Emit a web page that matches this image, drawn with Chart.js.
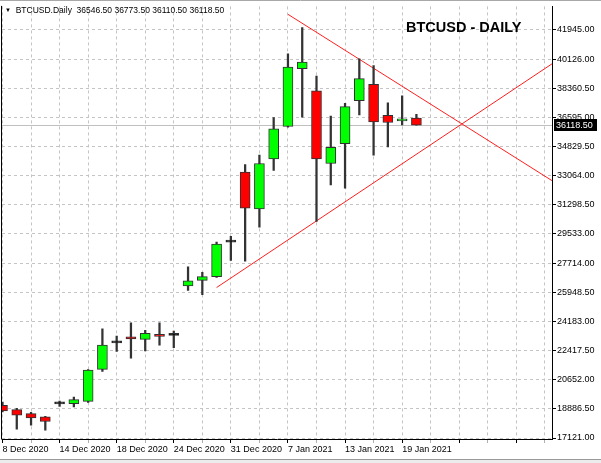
<!DOCTYPE html>
<html>
<head>
<meta charset="utf-8">
<script src="https://cdn.jsdelivr.net/npm/chart.js@4.4.0/dist/chart.umd.min.js"></script>
<style>
  html, body { margin: 0; padding: 0; background: #fff; }
  #wrap { position: relative; width: 601px; height: 463px; overflow: hidden; }
  #wrap canvas { position: absolute; left: 0; top: 0; }
  .hdr { position: absolute; left: 5px; top: 5px; font: 8.5px "Liberation Sans", Arial, sans-serif; line-height: 10px; color: #000; white-space: pre; }
  .hdr .tri { font-size: 6px; vertical-align: 1px; }
  .ttl { position: absolute; left: 406px; top: 20px; font: bold 14.5px "Liberation Sans", Arial, sans-serif; line-height: 15px; color: #000; }
  .foot { position: absolute; left: 0; top: 459px; width: 601px; height: 4px; border-top: 1px solid #9a9a9a; background: #ececec; }
</style>
</head>
<body>
<div id="wrap">
  <canvas id="chart" width="601" height="463"></canvas>
  <div class="hdr"><span class="tri">▼</span>  BTCUSD.Daily  36546.50 36773.50 36110.50 36118.50</div>
  <div class="ttl">BTCUSD - DAILY</div>
  <div class="foot"></div>
</div>
<script>
// daily bars (weekends/holidays missing as on the broker feed)
const dates = ['8 Dec 2020','9 Dec 2020','10 Dec 2020','11 Dec 2020','14 Dec 2020','15 Dec 2020','16 Dec 2020','17 Dec 2020',
  '18 Dec 2020','21 Dec 2020','22 Dec 2020','23 Dec 2020','24 Dec 2020','28 Dec 2020','29 Dec 2020','30 Dec 2020',
  '31 Dec 2020','4 Jan 2021','5 Jan 2021','6 Jan 2021','7 Jan 2021','8 Jan 2021','11 Jan 2021','12 Jan 2021',
  '13 Jan 2021','14 Jan 2021','15 Jan 2021','18 Jan 2021','19 Jan 2021','20 Jan 2021'];
const open  = [19104, 18846, 18605, 18401, 19195, 19206, 19345, 21286, 22900, 23269, 23113, 23413, 23350, 26358, 26695,
  26917, 29010, 33270, 31022, 34069, 36034, 39538, 38198, 33787, 34989, 37597, 38595, 36714, 36371, 36546.5];
const high  = [19300, 18924, 18684, 18443, 19363, 19603, 21268, 23750, 23311, 24111, 23654, 24111, 23612, 27518, 27176,
  29021, 29363, 33727, 34292, 36575, 40440, 42044, 39100, 36672, 37435, 40139, 39737, 37477, 37898, 36773.5];
const low   = [18700, 17662, 17902, 17602, 19044, 19002, 19285, 21166, 22380, 21971, 22410, 22752, 22608, 26076, 25817,
  26875, 27897, 27861, 29922, 33366, 35992, 36593, 30265, 32489, 32284, 36732, 34292, 34790, 36131, 36110.5];
const close = [18762, 18503, 18341, 18125, 19215, 19447, 21250, 22770, 22920, 23131, 23474, 23293, 23370, 26659, 26917,
  28901, 29030, 31082, 33787, 35890, 39640, 39941, 34069, 34772, 37236, 38937, 36311, 36275, 36473, 36118.5];

// price axis labels as printed by the terminal
const priceTicks = [17121, 18886.5, 20652, 22417.5, 24183, 25948.5, 27714, 29533, 31298.5, 33064, 34829.5, 36595, 38360.5, 40126, 41945];

// the two hand drawn trend lines (bar index, price)
const upperX = [20, 38.5];
const upperY = [42844, 32747];
const lowerX = [15, 38.5];
const lowerY = [26256, 39839];

const lastPrice = close[close.length - 1];

const bodies = dates.map((d, i) => ({x: i, y: [open[i], close[i]]}));
const wicks = dates.map((d, i) => ({x: i, y: [low[i], high[i]]}));

function bodyColor(ctx) {
  const i = ctx.dataIndex;
  if (i === undefined) return '#000';
  const diff = close[i] - open[i];
  if (Math.abs(diff) < 50) return '#000';
  return diff > 0 ? '#00ff00' : '#ff0000';
}

const frame = {
  id: 'frame',
  beforeDatasetsDraw(chart) {
    const {ctx, chartArea: a, scales: {y}} = chart;
    const py = Math.round(y.getPixelForValue(lastPrice)) + 0.5;
    ctx.save();
    ctx.strokeStyle = '#c0c0c0';
    ctx.lineWidth = 1;
    ctx.beginPath();
    ctx.moveTo(a.left, py);
    ctx.lineTo(a.right, py);
    ctx.stroke();
    ctx.restore();
  },
  afterDraw(chart) {
    const {ctx, chartArea: a, scales: {y}} = chart;
    ctx.save();
    ctx.strokeStyle = '#000';
    ctx.lineWidth = 1;
    ctx.beginPath();
    ctx.moveTo(a.left - 0.5, a.top - 0.5);
    ctx.lineTo(a.left - 0.5, a.bottom + 0.5);
    ctx.stroke();
    ctx.strokeStyle = '#a8a8a8';
    ctx.beginPath();
    ctx.moveTo(0, 0.5);
    ctx.lineTo(601, 0.5);
    ctx.stroke();
    // current price box on the axis
    const py = Math.round(y.getPixelForValue(lastPrice));
    ctx.fillStyle = '#000';
    ctx.fillRect(a.right + 2, py - 6, 43, 12);
    ctx.fillStyle = '#fff';
    ctx.font = '9px "Liberation Sans", Arial, sans-serif';
    ctx.textBaseline = 'middle';
    ctx.fillText(lastPrice.toFixed(2), a.right + 4, py + 0.5);
    ctx.restore();
  }
};

new Chart(document.getElementById('chart'), {
  type: 'bar',
  data: {
    datasets: [
      {
        label: 'body',
        data: bodies,
        grouped: false,
        barThickness: 10,
        minBarLength: 2,
        backgroundColor: bodyColor,
        borderColor: '#303030',
        borderWidth: 1,
        borderSkipped: false,
        clip: 0
      },
      {
        label: 'wick',
        data: wicks,
        grouped: false,
        barThickness: 1.6,
        backgroundColor: '#333',
        borderWidth: 0,
        clip: 0
      },
      {
        type: 'line',
        label: 'upper',
        data: upperX.map((x, i) => ({x: x, y: upperY[i]})),
        borderColor: '#ff2020',
        borderWidth: 1,
        pointRadius: 0,
        clip: 0
      },
      {
        type: 'line',
        label: 'lower',
        data: lowerX.map((x, i) => ({x: x, y: lowerY[i]})),
        borderColor: '#ff2020',
        borderWidth: 1,
        pointRadius: 0,
        clip: 0
      }
    ]
  },
  options: {
    responsive: false,
    animation: false,
    devicePixelRatio: 1,
    layout: {padding: {left: 2, top: 2, right: 0, bottom: 0}},
    plugins: {legend: {display: false}, tooltip: {enabled: false}},
    scales: {
      x: {
        type: 'linear',
        min: -0.035,
        max: 38.5,
        offset: false,
        afterBuildTicks(s) {
          const t = [];
          for (let v = 0; v <= 38; v += 2) t.push({value: v});
          s.ticks = t;
        },
        afterFit(s) { s.height = 24; },
        grid: {
          offset: false,
          color: '#c4c4c4',
          lineWidth: 1,
          drawTicks: true,
          tickLength: 4,
          tickWidth: 1,
          tickColor: (c) => (c.tick && c.tick.value % 4 === 0) ? '#000' : '#b0b0b0'
        },
        border: {display: true, color: '#000', width: 1, dash: [3, 3]},
        ticks: {
          autoSkip: false,
          maxRotation: 0,
          align: 'start',
          padding: 1,
          color: '#000',
          font: {family: '"Liberation Sans", Arial, sans-serif', size: 9},
          callback: (v) => (v % 4 === 0 && v < dates.length) ? dates[v] : ''
        }
      },
      y: {
        type: 'linear',
        position: 'right',
        min: 17060.9,
        max: 43324.6,
        afterBuildTicks(s) { s.ticks = priceTicks.map(v => ({value: v})); },
        afterFit(s) { s.width = 49; },
        grid: {
          color: '#c4c4c4',
          lineWidth: 1,
          drawTicks: true,
          tickLength: 4,
          tickWidth: 1,
          tickColor: '#000'
        },
        border: {display: true, color: '#000', width: 1, dash: [3, 3]},
        ticks: {
          padding: 1,
          color: '#000',
          font: {family: '"Liberation Sans", Arial, sans-serif', size: 9},
          callback: (v) => Number(v).toFixed(2)
        }
      }
    }
  },
  plugins: [frame]
});
</script>
</body>
</html>
